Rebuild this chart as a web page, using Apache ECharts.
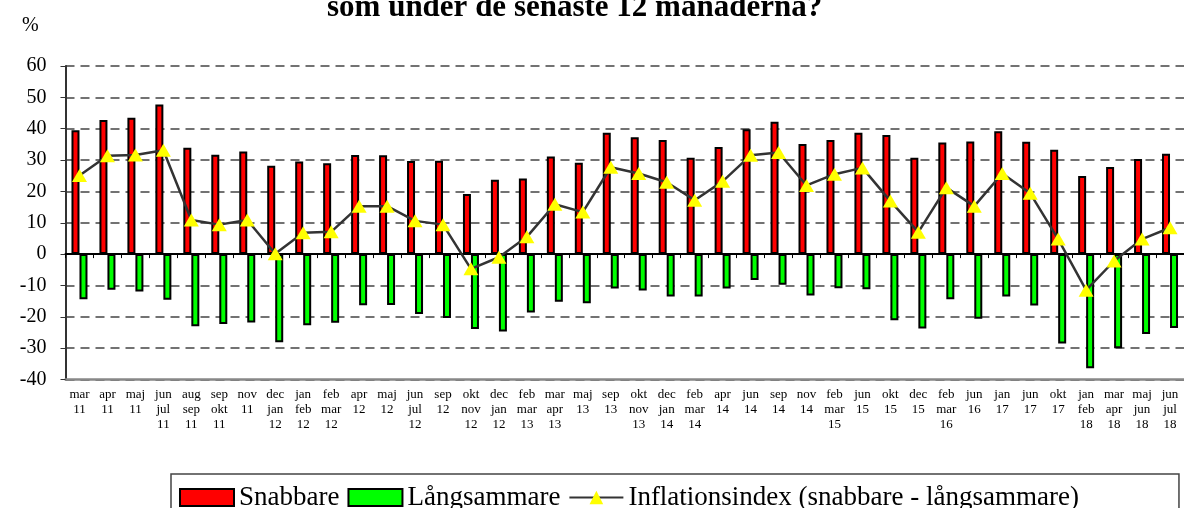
<!DOCTYPE html>
<html>
<head>
<meta charset="utf-8">
<script src="https://cdn.jsdelivr.net/npm/echarts@6/dist/echarts.min.js"></script>
<style>
	html, body { margin: 0; padding: 0; background: #fff; }
	#chart { width: 1184px; height: 508px; }
</style>
</head>
<body>
<div id="chart"></div>
<script>
// kategorier (månad / år)
var categories = ['mar\n11', 'apr\n11', 'maj\n11', 'jun\njul\n11', 'aug\nsep\n11', 'sep\nokt\n11', 'nov\n11',
	'dec\njan\n12', 'jan\nfeb\n12', 'feb\nmar\n12', 'apr\n12', 'maj\n12', 'jun\njul\n12', 'sep\n12',
	'okt\nnov\n12', 'dec\njan\n12', 'feb\nmar\n13', 'mar\napr\n13', 'maj\n13', 'sep\n13', 'okt\nnov\n13',
	'dec\njan\n14', 'feb\nmar\n14', 'apr\n14', 'jun\n14', 'sep\n14', 'nov\n14', 'feb\nmar\n15', 'jun\n15',
	'okt\n15', 'dec\n15', 'feb\nmar\n16', 'jun\n16', 'jan\n17', 'jun\n17', 'okt\n17', 'jan\nfeb\n18',
	'mar\napr\n18', 'maj\njun\n18', 'jun\njul\n18'];

var snabbare = [39.5, 42.8, 43.5, 47.7, 33.9, 31.7, 32.7, 28.2, 29.5, 29.0,
	31.6, 31.5, 29.7, 29.8, 19.2, 23.7, 24.1, 31.1, 29.1, 38.7,
	37.3, 36.4, 30.7, 34.2, 39.8, 42.2, 35.1, 36.4, 38.7, 38.0,
	30.7, 35.6, 35.9, 39.2, 35.8, 33.3, 24.9, 27.8, 30.3, 32.0];

var langsammare = [-14.4, -11.4, -11.9, -14.6, -23.0, -22.3, -21.8, -28.1, -22.7, -21.9,
	-16.3, -16.2, -19.1, -20.4, -23.9, -24.7, -18.6, -15.2, -15.7, -11.0,
	-11.6, -13.5, -13.5, -11.0, -8.3, -9.8, -13.2, -10.9, -11.2, -21.1,
	-23.7, -14.4, -20.6, -13.5, -16.4, -28.5, -36.4, -30.0, -25.5, -23.6];

var inflationsindex = [25.1, 31.4, 31.6, 33.1, 10.9, 9.4, 10.9, 0.1, 6.8, 7.1,
	15.3, 15.3, 10.6, 9.4, -4.7, -1.0, 5.5, 15.9, 13.4, 27.7,
	25.7, 22.9, 17.2, 23.2, 31.5, 32.4, 21.9, 25.5, 27.5, 16.9,
	7.0, 21.2, 15.3, 25.7, 19.4, 4.8, -11.5, -2.2, 4.8, 8.4];

var font = 'Liberation Serif';

var option = {
	animation: false,
	textStyle: { fontFamily: font, color: '#000' },
	title: [{
		text: 'som under de senaste 12 månaderna?',
		left: 327,
		top: -8,
		padding: 0,
		textStyle: { fontFamily: font, fontSize: 31, fontWeight: 'bold', color: '#000' }
	}, {
		text: '%',
		left: 22,
		top: 16,
		padding: 0,
		textStyle: { fontFamily: font, fontSize: 20, fontWeight: 'normal', color: '#000' }
	}],
	legend: {
		left: 171,
		top: 474,
		padding: [10, 100, 10, 8],
		itemGap: 8,
		itemWidth: 54,
		itemHeight: 17,
		borderColor: '#444',
		borderWidth: 1.5,
		textStyle: { fontFamily: font, fontSize: 27, color: '#000' },
		data: [
			{ name: 'Snabbare', icon: 'rect' },
			{ name: 'Långsammare', icon: 'rect' },
			'Inflationsindex (snabbare - långsammare)'
		]
	},
	grid: { left: 65.5, right: -9.5, top: 66, bottom: 128.5 },
	xAxis: [{
		type: 'category',
		data: categories,
		position: 'bottom',
		axisLine: { onZero: false, lineStyle: { color: '#888', width: 2.5 } },
		axisTick: { show: false },
		axisLabel: { interval: 0, fontFamily: font, fontSize: 13, lineHeight: 15, color: '#000', margin: 8 },
		splitLine: { show: false }
	}, {
		type: 'category',
		data: categories,
		position: 'bottom',
		axisLine: { onZero: true, lineStyle: { color: '#000', width: 2 } },
		axisTick: { show: true, length: 4, lineStyle: { color: '#000', width: 1 } },
		axisLabel: { show: false },
		splitLine: { show: false }
	}],
	yAxis: {
		type: 'value',
		min: -40,
		max: 60,
		interval: 10,
		axisLine: { show: true, lineStyle: { color: '#333', width: 2 } },
		axisTick: { show: true, length: 5, lineStyle: { color: '#333' } },
		axisLabel: { fontFamily: font, fontSize: 20, color: '#000', margin: 19 },
		splitLine: { show: true, lineStyle: { type: [9, 6], color: '#444', width: 1.5 } }
	},
	series: [{
		name: 'Snabbare',
		type: 'bar',
		data: snabbare,
		barWidth: 8,
		barGap: '0%',
		itemStyle: { color: '#ff0000', borderColor: '#000', borderWidth: 2 }
	}, {
		name: 'Långsammare',
		type: 'bar',
		data: langsammare,
		barWidth: 8,
		barGap: '0%',
		itemStyle: { color: '#00ff00', borderColor: '#000', borderWidth: 2 }
	}, {
		name: 'Inflationsindex (snabbare - långsammare)',
		type: 'line',
		data: inflationsindex,
		z: 5,
		symbol: 'triangle',
		symbolSize: [15, 13],
		itemStyle: { color: '#ffff00' },
		lineStyle: { color: '#333', width: 2.5 }
	}]
};

var chart = echarts.init(document.getElementById('chart'));
chart.setOption(option);
</script>
</body>
</html>
